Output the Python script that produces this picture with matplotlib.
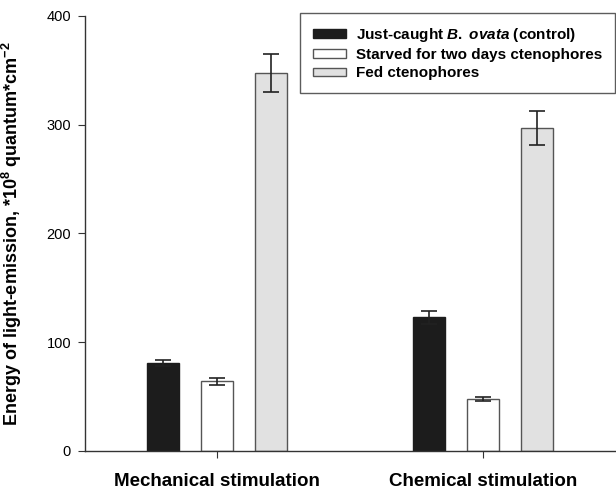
import matplotlib.pyplot as plt
import numpy as np

plt.rcParams['font.family'] = ['Liberation Sans', 'DejaVu Sans']
plt.rcParams['mathtext.fontset'] = 'custom'
plt.rcParams['mathtext.rm'] = 'Liberation Sans:bold'
plt.rcParams['mathtext.it'] = 'Liberation Sans:italic:bold'
plt.rcParams['mathtext.bf'] = 'Liberation Sans:bold'

# data
groups = ['Mechanical stimulation', 'Chemical stimulation']
series_labels = [
    r'Just-caught $\mathit{B.}$ $\mathit{ovata}$ (control)',
    'Starved for two days ctenophores',
    'Fed ctenophores',
]
control_vals = [81, 123]
control_err = [3.0, 6.0]
starved_vals = [64, 48]
starved_err = [3.3, 2.0]
fed_vals = [348, 297]
fed_err = [17.5, 16.0]

values = [control_vals, starved_vals, fed_vals]
errors = [control_err, starved_err, fed_err]
faces = ['#1c1c1c', 'white', '#e1e1e1']
edges = ['#1c1c1c', '#555555', '#555555']

fig = plt.figure(figsize=(6.16, 4.92), dpi=100)
ax = fig.add_axes([85 / 616, 41 / 492, 531 / 616, 435 / 492])

x = np.arange(len(groups))
offset = 0.203
width = 0.12
for i in range(3):
    ax.bar(x + (i - 1) * offset, values[i], width, yerr=errors[i],
           color=faces[i], edgecolor=edges[i], linewidth=1.0,
           label=series_labels[i], capsize=5.5,
           error_kw=dict(ecolor='#222222', elinewidth=1.2, capthick=1.2))

ax.set_xlim(-0.496, 1.5)
ax.set_ylim(0, 400)
ax.set_yticks([0, 100, 200, 300, 400])
ax.set_xticks(x)
ax.set_xticklabels(groups, fontsize=13.5, fontweight='bold')
ax.tick_params(axis='y', labelsize=10.5, direction='out', length=5,
               pad=5, color='#333333')
ax.tick_params(axis='x', direction='out', length=5, pad=11, color='#333333')
for s in ['top', 'right']:
    ax.spines[s].set_visible(False)
for s in ['left', 'bottom']:
    ax.spines[s].set_color('#333333')
    ax.spines[s].set_linewidth(1.0)

ax.set_ylabel(r'Energy of light-emission, *10$^{8}$ quantum*cm$^{-2}$',
              fontsize=13, fontweight='bold', labelpad=8)
ax.yaxis.set_label_coords(-0.115, 0.5)

leg = ax.legend(loc='upper right', bbox_to_anchor=(530 / 531, 1.007),
                borderaxespad=0, fontsize=11, frameon=True, fancybox=False,
                handlelength=2.15, handleheight=0.5, borderpad=0.85,
                labelspacing=0.28, handletextpad=0.65)
leg.get_frame().set_edgecolor('#333333')
leg.get_frame().set_linewidth(1.0)
for t in leg.get_texts():
    t.set_fontweight('bold')

fig.savefig('out.png', dpi=100)
